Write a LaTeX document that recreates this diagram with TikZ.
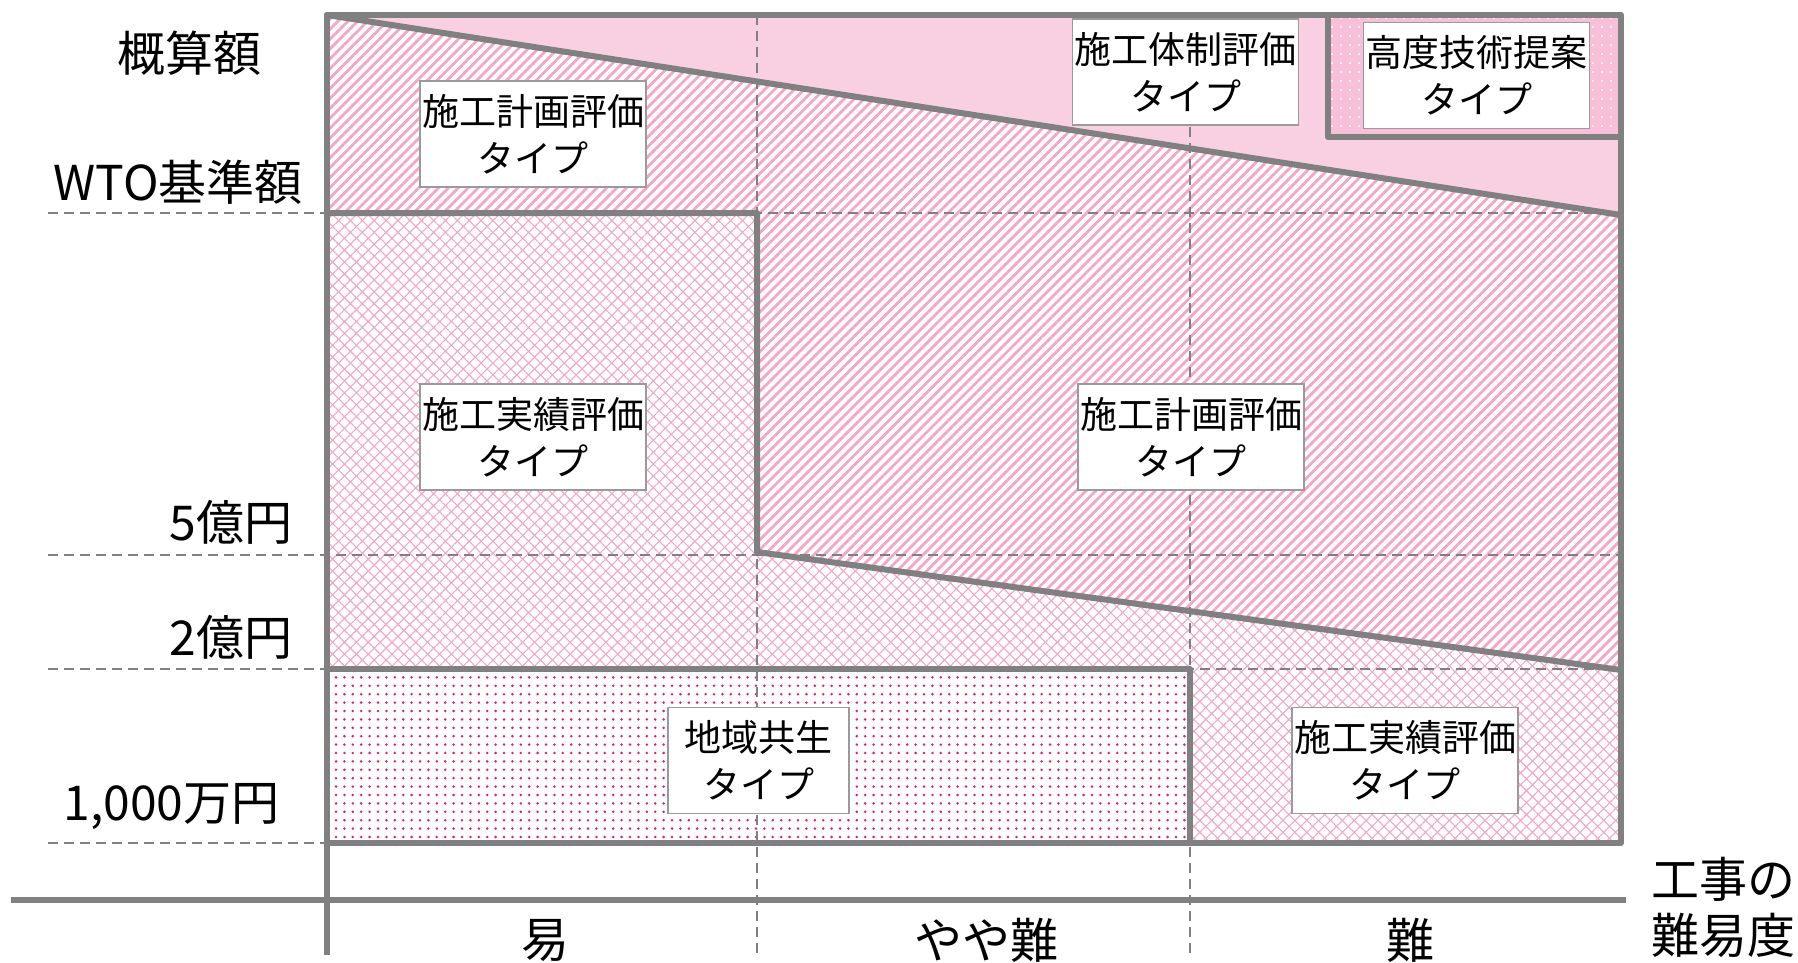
\documentclass[tikz,border=0pt]{standalone}
\usepackage{fontspec}
\setmainfont{Noto Sans CJK JP}
\usetikzlibrary{patterns.meta}
\definecolor{gr}{HTML}{808080}
\definecolor{boxline}{HTML}{9A9A9A}
\definecolor{pk}{HTML}{F4A5C8}
\definecolor{pkd}{HTML}{F9D0E2}
\definecolor{pkk}{HTML}{F7C0D8}
\definecolor{mg}{HTML}{E8187E}
\begin{document}
\begin{tikzpicture}[x=0.5pt,y=-0.5pt,
  edge/.style={draw=gr,line width=3pt,line join=round,line cap=round},
  guide/.style={draw=gr,line width=1.3pt,dash pattern=on 5pt off 3pt},
  tbox/.style={draw=boxline,line width=0.6pt,fill=white,minimum width=113pt,minimum height=53pt,inner sep=0pt,align=center,font=\fontsize{18.5}{23.5}\selectfont},
  lab/.style={font=\fontsize{24}{28}\selectfont,inner sep=0pt,align=center},
  stripes/.style={pattern={Lines[angle=45,distance=3.5pt,line width=1.4pt]},pattern color=pk},
  diamonds/.style={pattern={Hatch[angle=45,distance=4.2pt,line width=0.55pt]},pattern color=pk},
  reddots/.style={pattern={Dots[distance=4.2pt,radius=0.7pt]},pattern color=mg},
  whitedots/.style={pattern={Dots[distance=4.5pt,radius=0.55pt]},pattern color=white}]

\useasboundingbox (0,0) rectangle (1798,963);

% region fills
\fill[stripes] (327,15) -- (1621,215) -- (1621,670) -- (757,552) -- (757,213) -- (327,213) -- cycle;
\fill[pkd] (327,15) -- (1328,15) -- (1328,137) -- (1621,137) -- (1621,215) -- cycle;
\fill[pkk] (1328,15) rectangle (1621,137);
\fill[whitedots] (1328,15) rectangle (1621,137);
\fill[diamonds] (327,213) -- (757,213) -- (757,552) -- (1621,670) -- (1621,843) -- (1190,843) -- (1190,669) -- (327,669) -- cycle;
\fill[reddots] (327,669) rectangle (1190,843);

% dashed guide lines
\draw[guide] (48,213) -- (1621,213);
\draw[guide] (48,555) -- (1621,555);
\draw[guide] (48,669) -- (1621,669);
\draw[guide] (48,843) -- (327,843);
\draw[guide] (757,15) -- (757,955);
\draw[guide] (1190,15) -- (1190,955);

% thick boundaries
\draw[edge] (327,15) rectangle (1621,843);
\draw[edge] (327,15) -- (1621,215);
\draw[edge] (327,213) -- (757,213) -- (757,552) -- (1621,670);
\draw[edge] (1328,15) -- (1328,137) -- (1621,137);
\draw[edge] (327,669) -- (1190,669) -- (1190,843);

% axes
\draw[gr,line width=2.8pt] (327,15) -- (327,955);
\draw[gr,line width=3.2pt] (11,900) -- (1626,900);

% type boxes
\node[tbox] (keikaku1) at (533,134) {施工計画評価\\タイプ};
\node[tbox] (taisei) at (1185.5,72) {施工体制評価\\タイプ};
\node[tbox] (koudo) at (1476.5,75.5) {高度技術提案\\タイプ};
\node[tbox] (jisseki1) at (533,437) {施工実績評価\\タイプ};
\node[tbox] (keikaku2) at (1191,437) {施工計画評価\\タイプ};
\node[tbox,minimum width=90.5pt] (chiiki) at (758.5,760.5) {地域共生\\タイプ};
\node[tbox] (jisseki2) at (1405,760.5) {施工実績評価\\タイプ};

% axis labels
\node[lab] (gaisan) at (189,53) {概算額};
\node[lab] (wto) at (178,182) {WTO基準額};
\node[lab,anchor=east] (oku5) at (293,522) {5億円};
\node[lab,anchor=east] (oku2) at (293,637) {2億円};
\node[lab,anchor=east] (man) at (280,807) {1,000万円};
\node[lab] (easy) at (545,940) {易};
\node[lab] (mid) at (986,940) {やや難};
\node[lab] (hard) at (1410,940) {難};
\node[lab] (koji) at (1723,879) {工事の};
\node[lab] (nanido) at (1723,935) {難易度};
\end{tikzpicture}
\end{document}
